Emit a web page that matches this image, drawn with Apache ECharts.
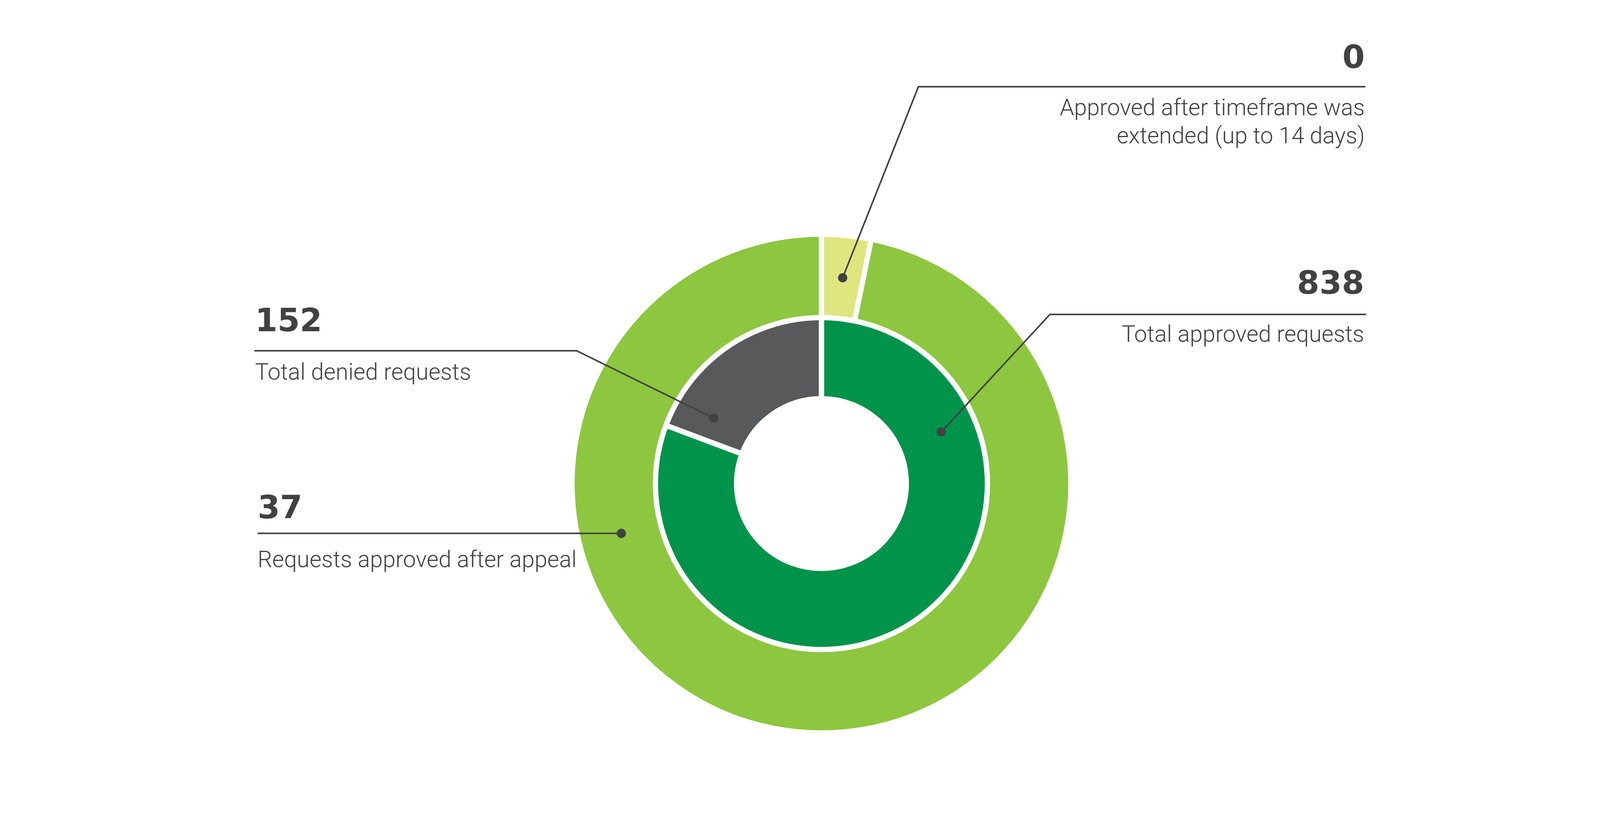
<!DOCTYPE html>
<html><head><meta charset="utf-8">
<script src="https://cdn.jsdelivr.net/npm/echarts@6/dist/echarts.min.js"></script>
<style>html,body{margin:0;padding:0;background:#fff;overflow:hidden}#c{width:100vw;height:100vh}</style>
</head><body><div id="c"></div>
<script>
// ---- data ----
const innerCategories = ['Total approved requests', 'Total denied requests'];
const innerLabelValues = [838, 152];
const innerShares = [80.7, 19.3];          // arc shares (%)
const outerCategories = ['Approved after timeframe was\nextended (up to 14 days)', 'Requests approved after appeal'];
const outerLabelValues = [0, 37];
const outerShares = [3.2, 96.8];            // arc shares (%)

// ---- style / layout (designed for a 5000 x 2084 canvas, mapped to the actual size) ----
const innerColors = ['#00934A', '#58595B'];
const outerColors = ['#DFE57F', '#8DC63F'];
const TEXT = '#414042';

const chart = echarts.init(document.getElementById('c'), null, {renderer: 'canvas'});
const W = chart.getWidth(), H = chart.getHeight();
const sx = W / 5000, sy = H / 2084, k = Math.sqrt(sx * sy);
const X = v => v * sx, Y = v => v * sy;
const CX = X(2567), CY = Y(1238);

function pieSeries(cats, shares, colors, radius) {
  return {
    type: 'pie', center: [CX, CY], radius: radius.map(r => r * k), startAngle: 90, clockwise: true,
    silent: true, animation: false, label: {show: false}, labelLine: {show: false},
    emphasis: {disabled: true},
    itemStyle: {borderColor: '#ffffff', borderWidth: 15 * k},
    data: cats.map((n, i) => ({name: n, value: shares[i], itemStyle: {color: colors[i]}}))
  };
}

// annotation layout: dot offset from pie centre, elbow/end points, text anchors
const annLayout = [
  {src: 'outer', idx: 0, side: 'right', dot: [60, -582], path: [[2870, 222], [4267, 222]], tx: 4265, numY: 153, descY: [280.5, 352]},
  {src: 'inner', idx: 0, side: 'right', dot: [339, -146], path: [[3281, 805], [4269, 805]], tx: 4263, numY: 730.5, descY: [860.5]},
  {src: 'inner', idx: 1, side: 'left', dot: [-305, -185], path: [[1802, 898], [795, 898]], tx: 797, numY: 827, descY: [957]},
  {src: 'outer', idx: 1, side: 'left', dot: [-566, 141], path: [[805, 1379]], tx: 805, numY: 1306, descY: [1437]}
];

const graphics = [];
annLayout.forEach(a => {
  const cats = a.src === 'inner' ? innerCategories : outerCategories;
  const vals = a.src === 'inner' ? innerLabelValues : outerLabelValues;
  const align = a.side === 'right' ? 'right' : 'left';
  const dot = [CX + a.dot[0] * k, CY + a.dot[1] * k];
  let pathPts = a.path.map(p => [X(p[0]), Y(p[1])]);
  if (pathPts.length === 1) pathPts = [[pathPts[0][0], dot[1]]];
  const pts = [dot].concat(pathPts);
  graphics.push({type: 'polyline', z: 100, shape: {points: pts},
    style: {stroke: TEXT, lineWidth: 4, fill: null}});
  graphics.push({type: 'circle', z: 101, shape: {cx: dot[0], cy: dot[1], r: 13 * k},
    style: {fill: TEXT}});
  graphics.push({type: 'text', z: 101, x: X(a.tx), y: Y(a.numY),
    style: {text: String(vals[a.idx]), fill: TEXT, fontFamily: 'DejaVu Sans', fontWeight: 'bold',
      fontSize: 91 * k, align: align, verticalAlign: 'middle', textAlign: align, textVerticalAlign: 'middle'}});
  cats[a.idx].split('\n').forEach((line, j) => {
    graphics.push({type: 'text', z: 101, x: X(a.tx), y: Y(a.descY[j]),
      style: {text: line, fill: TEXT, fontFamily: 'Roboto', fontWeight: 300,
        fontSize: 65 * k, align: align, verticalAlign: 'middle', textAlign: align, textVerticalAlign: 'middle'}});
  });
});

chart.setOption({
  backgroundColor: '#ffffff',
  animation: false,
  series: [
    pieSeries(innerCategories, innerShares, innerColors, [240, 470.5]),
    pieSeries(outerCategories, outerShares, outerColors, [469.5, 705.5])
  ],
  graphic: graphics
});
</script></body></html>
